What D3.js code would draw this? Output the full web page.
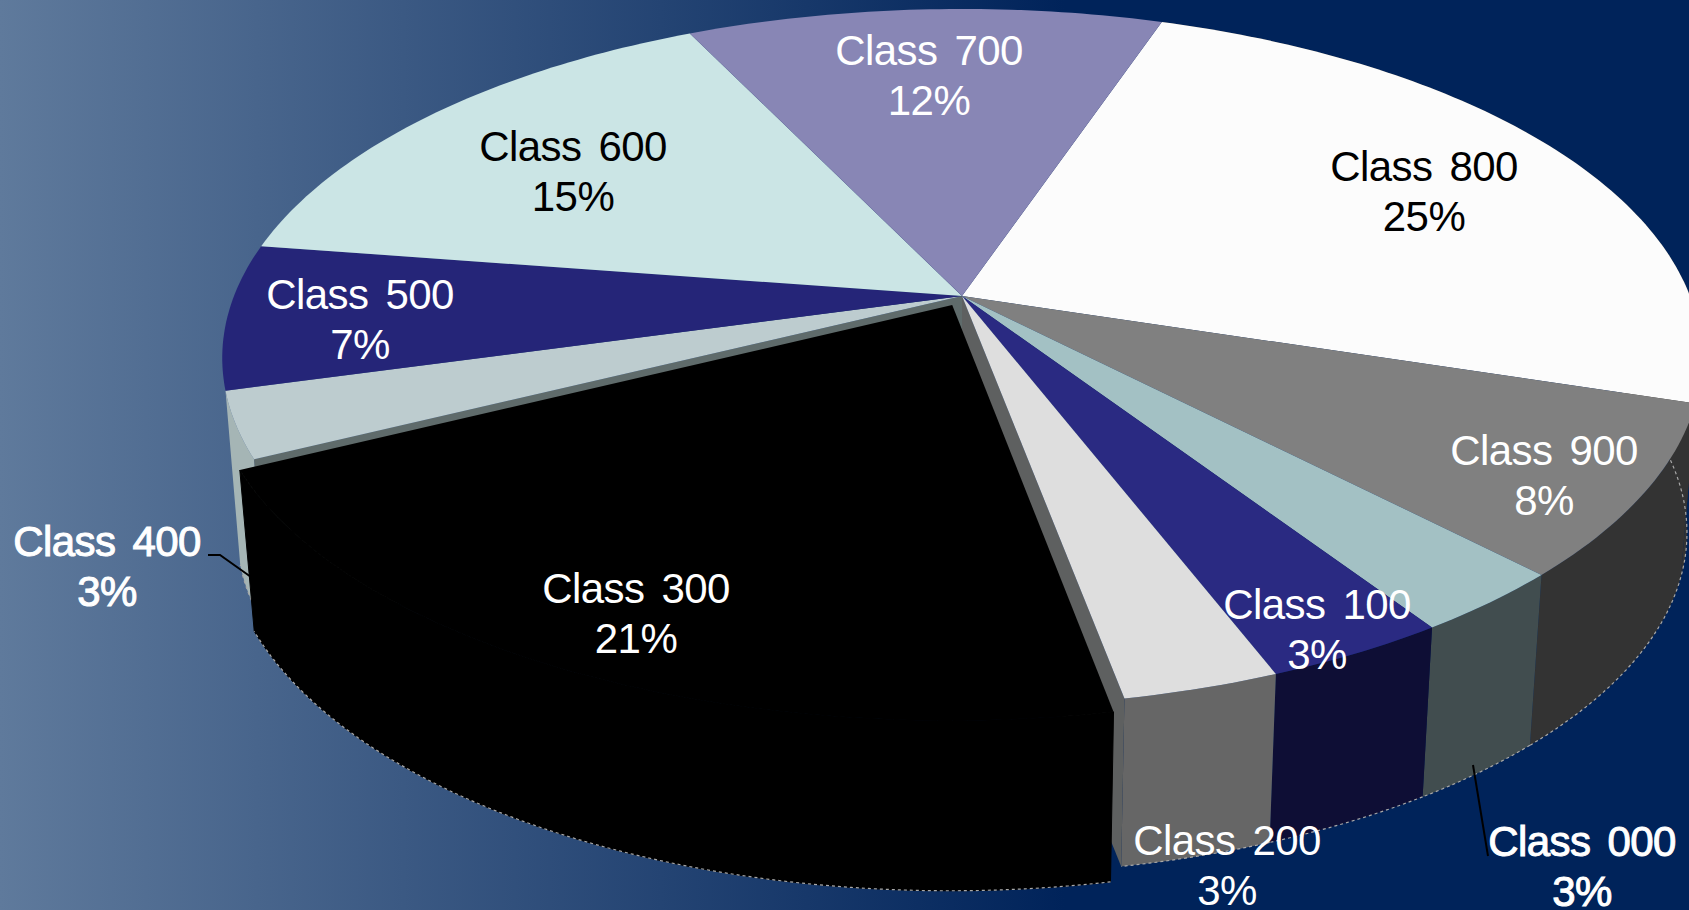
<!DOCTYPE html>
<html>
<head>
<meta charset="utf-8">
<script src="https://cdn.jsdelivr.net/npm/d3@7"></script>
<style>
  html, body { margin: 0; padding: 0; background: #00235a; overflow: hidden; }
  svg { display: block; }
  text { font-family: "Liberation Sans", Arial, sans-serif; font-size: 42px; letter-spacing: -0.6px; word-spacing: 6px; text-anchor: middle; }
</style>
</head>
<body>
<div id="chart"></div>
<script>
// slices in clockwise order, starting from the 700/800 boundary
const classes = ['Class 800', 'Class 900', 'Class 000', 'Class 100', 'Class 200', 'Class 300', 'Class 400', 'Class 500', 'Class 600', 'Class 700'];
const shares = [24.6, 7.9, 2.94, 3.4, 2.9, 20.55, 3.03, 6.7, 15.4, 12.3];

const topColors = ['#fcfcfc', '#808080', '#a3c1c4', '#2a2a82', '#dedede', '#000000', '#bdcccf', '#252578', '#cbe5e5', '#8886b5'];
const wallColors = ['#333333', '#333333', '#414d4f', '#0e0e35', '#666666', '#000000', '#a5b5b5', null, null, null];
const labelColors = ['#000', '#fff', '#fff', '#fff', '#fff', '#fff', '#fff', '#fff', '#000', '#fff'];

const width = 1689;
const height = 910;

// where the labels were placed by hand: [x, baseline of first line, heavy]
const labelPos = {
  'Class 800': [1424, 181, 0], 'Class 900': [1544, 465, 0], 'Class 000': [1582, 856, 1],
  'Class 100': [1317, 619, 0], 'Class 200': [1227, 855, 0], 'Class 300': [636, 603, 0],
  'Class 400': [107, 556, 1], 'Class 500': [360, 309, 0], 'Class 600': [573, 161, 0],
  'Class 700': [929, 65, 0]
};

// perspective of the disc
const apex = { x: 962, y: 296 };
const scaleX = 728, scaleY = 338, tilt = 0.1776;
const depth = 176, shrink = 0.98;
const explode = 0.03;
const exploded = 'Class 300';
// the pulled out slice has its own floor
const outDepth = 155, outShrinkY = 1.036;

function project(u, v, low, out) {
  const w = 1 - tilt * v;
  const x = scaleX * u / w;
  const y = scaleY * v / w;
  if (low && out) return [apex.x + shrink * x, apex.y + outDepth + outShrinkY * y];
  if (low) return [apex.x + shrink * x, apex.y + depth + shrink * y];
  return [apex.x + x, apex.y + y];
}

const pie = d3.pie().sort(null).value(d => d.share)
  .startAngle(18.7 * Math.PI / 180)
  .endAngle(378.7 * Math.PI / 180);

const slices = pie(classes.map((name, i) => ({
  name: name, share: shares[i], top: topColors[i], wall: wallColors[i], label: labelColors[i]
})));

function isOut(d) {
  return d.data.name === exploded;
}

function offsetOf(d) {
  if (!isOut(d)) return [0, 0];
  const mid = (d.startAngle + d.endAngle) / 2;
  return [explode * Math.sin(mid), -explode * Math.cos(mid)];
}

function arcPoints(d, low) {
  const off = offsetOf(d);
  const steps = Math.max(4, Math.ceil((d.endAngle - d.startAngle) * 60));
  return d3.range(steps + 1).map(i => {
    const a = d.startAngle + (d.endAngle - d.startAngle) * i / steps;
    return project(off[0] + Math.sin(a), off[1] - Math.cos(a), low, isOut(d));
  });
}

function centerPoint(d) {
  const off = offsetOf(d);
  return project(off[0], off[1], false);
}

const line = d3.line();
const pct = d3.format('.0f');

const svg = d3.select('#chart').append('svg')
  .attr('width', width)
  .attr('height', height)
  .attr('viewBox', [0, 0, width, height].join(' '));

const grad = svg.append('defs').append('linearGradient')
  .attr('id', 'bg').attr('x1', 0).attr('x2', 1).attr('y1', 0).attr('y2', 0);
grad.append('stop').attr('offset', '0%').attr('stop-color', '#5f7a9c');
grad.append('stop').attr('offset', '63%').attr('stop-color', '#00235a');
grad.append('stop').attr('offset', '100%').attr('stop-color', '#00235a');

svg.append('rect').attr('width', width).attr('height', height).attr('fill', 'url(#bg)');

const regular = slices.filter(d => !isOut(d));
const broken = slices.filter(isOut);

// outer walls
svg.append('g').selectAll('path')
  .data(regular.filter(d => d.data.wall))
  .enter().append('path')
  .attr('fill', d => d.data.wall)
  .attr('d', d => line(arcPoints(d, false).concat(arcPoints(d, true).reverse())) + 'Z');

// dotted highlight along the lower rim
svg.append('g').selectAll('path')
  .data(regular.filter(d => d.data.wall))
  .enter().append('path')
  .attr('fill', 'none')
  .attr('stroke', '#a8a8a8')
  .attr('stroke-width', 1.2)
  .attr('stroke-dasharray', '3 3')
  .attr('d', d => line(arcPoints(d, true)));

// faces left open by the pulled out slice
const neighbours = [
  { angle: slices[4].endAngle, fill: '#5e6060' },
  { angle: slices[6].startAngle, fill: '#5f6b6b' }
];
svg.append('g').selectAll('path')
  .data(neighbours)
  .enter().append('path')
  .attr('fill', d => d.fill)
  .attr('d', d => {
    const u = Math.sin(d.angle), v = -Math.cos(d.angle);
    return line([project(0, 0), project(u, v), project(u, v, true), project(0, 0, true)]) + 'Z';
  });

// top faces
svg.append('g').selectAll('path')
  .data(regular)
  .enter().append('path')
  .attr('fill', d => d.data.top)
  .attr('d', d => line([centerPoint(d)].concat(arcPoints(d, false))) + 'Z');

// pulled out slice, side and top are both black
const out = svg.append('g');
out.selectAll('path.side')
  .data(broken)
  .enter().append('path')
  .attr('class', 'side')
  .attr('fill', d => d.data.wall)
  .attr('stroke', d => d.data.wall)
  .attr('d', d => line(arcPoints(d, false).concat(arcPoints(d, true).reverse())) + 'Z');
out.selectAll('path.face')
  .data(broken)
  .enter().append('path')
  .attr('class', 'face')
  .attr('fill', d => d.data.top)
  .attr('d', d => line([centerPoint(d)].concat(arcPoints(d, false))) + 'Z');
out.selectAll('path.rim')
  .data(broken)
  .enter().append('path')
  .attr('class', 'rim')
  .attr('fill', 'none')
  .attr('stroke', '#a8a8a8')
  .attr('stroke-width', 1.2)
  .attr('stroke-dasharray', '3 3')
  .attr('d', d => line(arcPoints(d, true)));

// leader lines
const leaders = [
  [[208, 555], [220, 555], [251, 577]],
  [[1473, 765], [1488, 856]]
];
svg.append('g').selectAll('path')
  .data(leaders)
  .enter().append('path')
  .attr('fill', 'none')
  .attr('stroke', '#000')
  .attr('stroke-width', 2)
  .attr('d', d => line(d));

// labels
const labels = svg.append('g').selectAll('text')
  .data(slices)
  .enter().append('text')
  .attr('fill', d => d.data.label)
  .attr('stroke', d => labelPos[d.data.name][2] ? d.data.label : 'none')
  .attr('stroke-width', 1);

labels.append('tspan')
  .attr('x', d => labelPos[d.data.name][0])
  .attr('y', d => labelPos[d.data.name][1])
  .text(d => d.data.name);

labels.append('tspan')
  .attr('x', d => labelPos[d.data.name][0])
  .attr('y', d => labelPos[d.data.name][1] + 50)
  .text(d => pct(d.data.share) + '%');
</script>
</body>
</html>
